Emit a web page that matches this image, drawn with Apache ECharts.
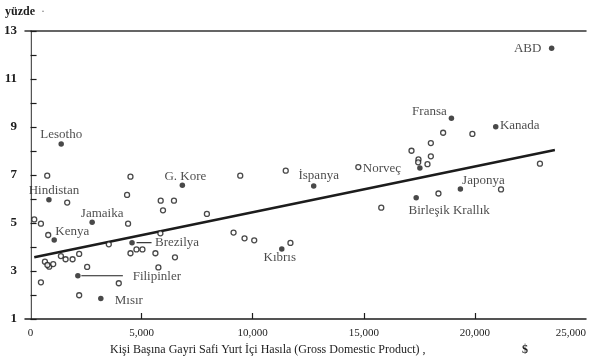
<!DOCTYPE html>
<html><head><meta charset="utf-8">
<script src="https://cdn.jsdelivr.net/npm/echarts@6/dist/echarts.min.js"></script>
<style>html,body{margin:0;padding:0;background:#fff}#c{width:589px;height:360px}</style>
</head><body><div id="c"></div>
<script>
// Unlabelled countries (open circles)
const openGDP = [750, 4497, 4344, 1649, 166, 467, 795, 4389, 5858, 6455, 5961, 7937, 5844, 3522, 4766, 5036, 4497, 5620, 6500, 5754, 647, 840, 760, 1020, 1366, 1577, 1891, 2188, 2547, 467, 3971, 2188, 9438, 11486, 14752, 9137, 9631, 10067, 11697, 15785, 18570, 19886, 18017, 17146, 18017, 17460, 17447, 17865, 22927, 21175, 18359];
const openGrowth = [6.97, 6.93, 6.17, 5.85, 5.15, 4.97, 4.5, 4.97, 5.93, 5.93, 5.53, 5.38, 4.57, 4.11, 3.9, 3.9, 3.74, 3.74, 3.57, 3.15, 3.39, 3.18, 3.25, 3.29, 3.62, 3.49, 3.49, 3.71, 3.17, 2.53, 2.49, 1.99, 6.97, 7.18, 7.33, 4.6, 4.36, 4.28, 4.17, 5.64, 8.76, 8.71, 8.33, 8.01, 7.78, 7.65, 7.53, 7.45, 7.47, 6.4, 6.23];
// Labelled countries (filled dots)
const countryNames = ['Lesotho', 'Hindistan', 'Jamaika', 'Kenya', 'G. Kore', 'Brezilya', 'Filipinler', 'Mısır', 'İspanya', 'Kıbrıs', 'Norveç', 'Fransa', 'Kanada', 'Japonya', 'Birleşik Krallık', 'ABD'];
const countryGDP = [1379, 827, 2772, 1065, 6832, 4568, 2129, 3162, 12744, 11307, 17523, 18943, 20937, 19347, 17357, 23453];
const countryGrowth = [8.29, 5.97, 5.03, 4.29, 6.57, 4.18, 2.8, 1.85, 6.54, 3.92, 7.29, 9.36, 9.01, 6.42, 6.05, 12.28];
// Regression line end points
const trendGDP = [166, 23600];
const trendGrowth = [3.57, 8.04];
// Tick labels
const xTicks = [0, 5000, 10000, 15000, 20000, 25000];
const yTicks = [1, 3, 5, 7, 9, 11, 13];

// label placement (text centre offset from dot, px)
const labelOffset = {
  'Lesotho': [0, -9], 'Hindistan': [5, -9], 'Jamaika': [10, -9], 'Kenya': [18, -8],
  'G. Kore': [3, -9], 'Brezilya': [45, 0], 'Filipinler': [79, 1], 'Mısır': [28, 2],
  'İspanya': [5, -10], 'Kıbrıs': [-2, 9], 'Norveç': [-38, 1], 'Fransa': [-22, -7],
  'Kanada': [24, -1], 'Japonya': [23, -8], 'Birleşik Krallık': [33, 13], 'ABD': [-24, 0]
};
const INK = '#1c1c1c';
const FONT = '"Liberation Serif", "DejaVu Serif", serif';

const chart = echarts.init(document.getElementById('c'), null, {renderer: 'canvas'});
const option = {
  animation: false,
  backgroundColor: '#fff',
  grid: {left: 25, right: 2, top: 31, bottom: 41, containLabel: false},
  xAxis: [{
    type: 'value', min: -250, max: 25000,
    axisLine: {show: true, lineStyle: {color: INK, width: 1.5}},
    splitLine: {show: false},
    axisTick: {show: true, inside: true, length: 6, customValues: xTicks.filter(v => v > 0 && v < 25000), lineStyle: {color: INK, width: 1.2}},
    axisLabel: {customValues: xTicks, color: INK, fontFamily: FONT, fontSize: 11, margin: 9, alignMaxLabel: 'right',
      formatter: v => v === 0 ? '0' : v.toLocaleString('en-US')}
  }, {
    type: 'value', position: 'top', min: -250, max: 25000,
    axisLine: {show: true, lineStyle: {color: '#333', width: 1.5}},
    axisTick: {show: false}, axisLabel: {show: false}, splitLine: {show: false}
  }],
  yAxis: [{
    type: 'value', min: 1, max: 13, interval: 1,
    axisLine: {show: true, lineStyle: {color: INK, width: 1.5}},
    splitLine: {show: false},
    axisTick: {show: true, inside: true, length: 6, lineStyle: {color: INK, width: 1.2}},
    axisLabel: {customValues: yTicks, color: INK, fontFamily: FONT, fontSize: 13, fontWeight: 'bold', margin: 8}
  }, {
    type: 'value', position: 'right', min: 1, max: 13, interval: 1,
    axisLine: {show: true, lineStyle: {color: '#d8d8d8', width: 1}},
    axisTick: {show: false}, axisLabel: {show: false}, splitLine: {show: false}
  }],
  series: [
    {
      type: 'line', data: trendGDP.map((x, i) => [x, trendGrowth[i]]),
      symbol: 'none', lineStyle: {color: INK, width: 2.6}, z: 1
    },
    {
      type: 'scatter', data: openGDP.map((x, i) => [x, openGrowth[i]]),
      symbol: 'circle', symbolSize: 5,
      itemStyle: {color: '#fff', borderColor: INK, borderWidth: 1.3}, z: 2
    },
    {
      type: 'scatter',
      data: countryNames.map((n, i) => ({
        name: n, value: [countryGDP[i], countryGrowth[i]],
        label: {show: true, position: 'inside', offset: labelOffset[n], formatter: n}
      })),
      symbol: 'circle', symbolSize: 5.5,
      itemStyle: {color: INK},
      label: {color: INK, fontFamily: FONT, fontSize: 13},
      z: 3
    }
  ]
};
chart.setOption(option);

function leader(name, d0, d1) {
  const i = countryNames.indexOf(name);
  const p = chart.convertToPixel({gridIndex: 0}, [countryGDP[i], countryGrowth[i]]);
  return {type: 'line', shape: {x1: p[0] + d0, y1: p[1], x2: p[0] + d1, y2: p[1]}, style: {stroke: INK, lineWidth: 1.1}};
}
chart.setOption({
  graphic: [
    {type: 'text', left: 5, top: 6, style: {text: 'yüzde', font: 'bold 12px ' + FONT, fill: INK}},
    {type: 'text', left: 5 + 36, top: 6, style: {text: '·', font: '12px ' + FONT, fill: '#777'}},
    {type: 'text', left: 110, top: 344, style: {text: 'Kişi Başına Gayri Safi Yurt İçi Hasıla (Gross Domestic Product) ,', font: '12px ' + FONT, fill: INK}},
    {type: 'text', left: 522, top: 344, style: {text: '$', font: 'bold 12px ' + FONT, fill: INK}},
    leader('Brezilya', 4.5, 19.5),
    leader('Filipinler', 3.5, 45)
  ]
});
</script>
</body></html>
